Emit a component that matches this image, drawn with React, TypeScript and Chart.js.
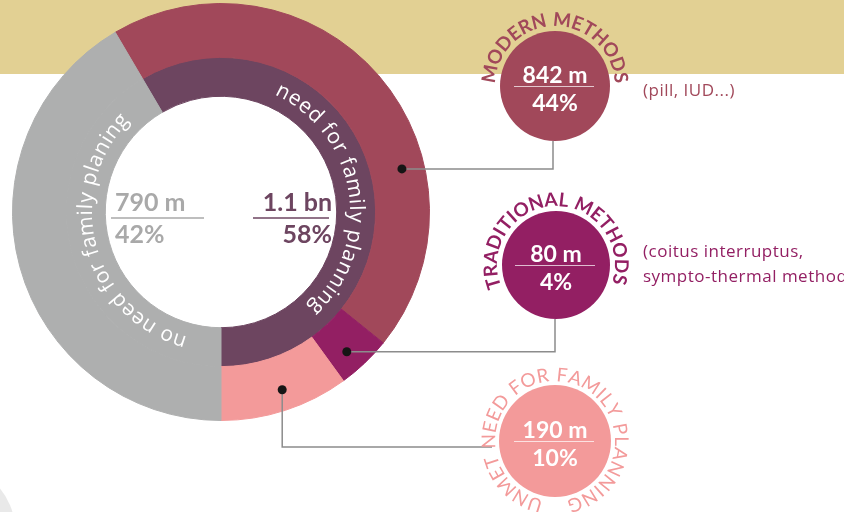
import React, { useEffect, useRef } from "react";
import { Chart, registerables } from "chart.js";

Chart.register(...registerables);

// ---- data (millions of women) ----
const segmentLabels = ["Modern methods", "Traditional methods", "Unmet need for family planning", "No need for family planning"];
const segmentValues = [842, 80, 190, 790];
const groupLabels = ["Need for family planning", "No need for family planning"];
const groupValues = [1112, 790];
const groupValueTexts = ["1.1 bn", "790 m"];
const groupPercentTexts = ["58%", "42%"];
const ringTitles = ["need for family planning", "no need for family planing"];
const bubbleTitles = ["MODERN METHODS", "TRADITIONAL METHODS", "UNMET NEED FOR FAMILY PLANNING"];
const bubbleValueTexts = ["842 m", "80 m", "190 m"];
const bubblePercentTexts = ["44%", "4%", "10%"];
const bubbleNotes = [["(pill, IUD...)"], ["(coitus interruptus,", "sympto-thermal method)"], []];

const COLORS = {
  modern: "#A1485A",
  trad: "#931F63",
  unmet: "#F39A9A",
  gray: "#AEAFAF",
  need: "#6D4560",
  band: "#E2D093",
  line: "#8C8C8C",
  dot: "#151515",
};
const FONT = "Lato, 'Open Sans', sans-serif";
const FONT2 = "'Open Sans', Lato, sans-serif";

function arcText(
  ctx: CanvasRenderingContext2D,
  text: string,
  cx: number,
  cy: number,
  r: number,
  centerDeg: number,
  spacing: number
) {
  const chars = [...text];
  const widths = chars.map((c) => ctx.measureText(c).width);
  const total = widths.reduce((a, b) => a + b, 0) + spacing * (chars.length - 1);
  let a = (centerDeg * Math.PI) / 180 - total / (2 * r);
  ctx.textAlign = "center";
  ctx.textBaseline = "middle";
  chars.forEach((ch, i) => {
    const w = widths[i];
    const mid = a + w / (2 * r);
    ctx.save();
    ctx.translate(cx + r * Math.sin(mid), cy - r * Math.cos(mid));
    ctx.rotate(mid);
    ctx.fillText(ch, 0, 0);
    ctx.restore();
    a += (w + spacing) / r;
  });
}

function polar(cx: number, cy: number, r: number, deg: number) {
  const t = (deg * Math.PI) / 180;
  return { x: cx + r * Math.sin(t), y: cy - r * Math.cos(t) };
}

const decorPlugin = {
  id: "decor",
  beforeDraw(chart: any) {
    const ctx = chart.ctx as CanvasRenderingContext2D;
    ctx.save();
    ctx.fillStyle = COLORS.band;
    ctx.fillRect(0, 0, chart.width, 74);
    ctx.fillStyle = "#E9E9E9";
    ctx.beginPath();
    ctx.arc(-50, 530, 65, 0, Math.PI * 2);
    ctx.fill();
    ctx.restore();
  },
  afterDraw(chart: any) {
    const ctx = chart.ctx as CanvasRenderingContext2D;
    const arc0 = chart.getDatasetMeta(0).data[0];
    const cx = arc0.x;
    const cy = arc0.y;
    ctx.save();

    // ring titles
    ctx.fillStyle = "#FFFFFF";
    ctx.font = `500 21px ${FONT2}`;
    arcText(ctx, ringTitles[0], cx, cy, 135, 81, 1.2);
    arcText(ctx, ringTitles[1], cx, cy, 135, 255, 1.0);

    // center figures
    const drawCenter = (x: number, align: CanvasTextAlign, color: string, v: string, p: string, lx0: number, lx1: number) => {
      ctx.fillStyle = color;
      ctx.textAlign = align;
      ctx.textBaseline = "middle";
      ctx.font = `bold 25px ${FONT}`;
      ctx.fillText(v, x, cy - 9);
      ctx.fillText(p, x, cy + 23);
      ctx.strokeStyle = color;
      ctx.lineWidth = 1.5;
      ctx.beginPath();
      ctx.moveTo(cx + lx0, cy + 6);
      ctx.lineTo(cx + lx1, cy + 6);
      ctx.stroke();
    };
    drawCenter(cx - 106, "left", "#A9A9A9", groupValueTexts[1], groupPercentTexts[1], -110, -17);
    drawCenter(cx + 111, "right", COLORS.need, groupValueTexts[0], groupPercentTexts[0], 32, 108);

    // connectors
    const bubbles = [
      { x: 555, y: 86, r: 55, color: COLORS.modern, titleR: 66, titleDeg: 0, weight: "bold", tfont: 19, sp: 1.2 },
      { x: 556, y: 265, r: 54, color: COLORS.trad, titleR: 65, titleDeg: -2, weight: "bold", tfont: 19, sp: 1.2 },
      { x: 555, y: 441, r: 56, color: COLORS.unmet, titleR: 66, titleDeg: 0, weight: "normal", tfont: 19, sp: 1.6 },
    ];
    ctx.strokeStyle = COLORS.line;
    ctx.lineWidth = 1.5;
    const d0 = polar(cx, cy, 186, 76.6);
    const d1 = polar(cx, cy, 188, 138);
    const d2 = polar(cx, cy, 188, 161);
    ctx.beginPath();
    ctx.moveTo(d0.x, d0.y);
    ctx.lineTo(bubbles[0].x - 2, d0.y);
    ctx.lineTo(bubbles[0].x - 2, bubbles[0].y + bubbles[0].r);
    ctx.moveTo(d1.x, d1.y);
    ctx.lineTo(bubbles[1].x - 1, d1.y);
    ctx.lineTo(bubbles[1].x - 1, bubbles[1].y + bubbles[1].r);
    ctx.moveTo(d2.x, d2.y);
    ctx.lineTo(d2.x, 447);
    ctx.lineTo(492, 447);
    ctx.stroke();
    ctx.fillStyle = COLORS.dot;
    [d0, d1, d2].forEach((d) => {
      ctx.beginPath();
      ctx.arc(d.x, d.y, 4.5, 0, Math.PI * 2);
      ctx.fill();
    });

    // bubbles
    bubbles.forEach((b, i) => {
      ctx.fillStyle = b.color;
      ctx.beginPath();
      ctx.arc(b.x, b.y, b.r, 0, Math.PI * 2);
      ctx.fill();
      ctx.font = `${b.weight} ${b.tfont}px ${FONT}`;
      arcText(ctx, bubbleTitles[i], b.x, b.y, b.titleR, b.titleDeg, b.sp);
      ctx.fillStyle = "#FFFFFF";
      ctx.textAlign = "center";
      ctx.textBaseline = "middle";
      ctx.font = `bold 23px ${FONT}`;
      ctx.fillText(bubbleValueTexts[i], b.x, b.y - 10);
      ctx.fillText(bubblePercentTexts[i], b.x, b.y + 18);
      ctx.strokeStyle = "rgba(255,255,255,0.7)";
      ctx.lineWidth = 1;
      ctx.beginPath();
      ctx.moveTo(b.x - 41, b.y + 0.5);
      ctx.lineTo(b.x + 39, b.y + 0.5);
      ctx.stroke();
      // notes
      ctx.fillStyle = b.color;
      ctx.textAlign = "left";
      ctx.font = `17px ${FONT2}`;
      (ctx as any).letterSpacing = "0.5px";
      bubbleNotes[i].forEach((line, j) => {
        const y0 = i === 0 ? b.y + 5 : b.y - 13;
        ctx.fillText(line, 643, y0 + j * 25);
      });
      (ctx as any).letterSpacing = "0px";
    });
    ctx.restore();
  },
};

export default function App() {
  const ref = useRef<HTMLCanvasElement | null>(null);
  useEffect(() => {
    if (!ref.current) return;
    const total = groupValues.reduce((a, b) => a + b, 0);
    const rotation = 180 - (groupValues[0] / total) * 360;
    const outerColors = [COLORS.modern, COLORS.trad, COLORS.unmet, COLORS.gray];
    const innerColors = [COLORS.need, COLORS.gray];
    const chart = new Chart(ref.current, {
      type: "doughnut",
      data: {
        labels: segmentLabels,
        datasets: [
          {
            label: "Methods",
            data: segmentValues,
            backgroundColor: outerColors,
            borderColor: outerColors,
            borderWidth: 1,
            hoverOffset: 0,
            offset: 0,
            weight: 54,
          } as any,
          {
            label: groupLabels.join(" / "),
            data: groupValues,
            backgroundColor: innerColors,
            borderColor: innerColors,
            borderWidth: 1,
            hoverOffset: 0,
            offset: 0,
            weight: 39,
          } as any,
        ],
      },
      options: {
        responsive: false,
        animation: false,
        events: [],
        rotation,
        cutout: "55.5%",
        layout: { padding: { left: 12, top: 3, right: 414, bottom: 91 } },
        plugins: { legend: { display: false }, tooltip: { enabled: false } },
      } as any,
      plugins: [decorPlugin],
    });
    return () => chart.destroy();
  }, []);
  return (
    <div style={{ position: "fixed", left: 0, top: 0, width: 844, height: 512, background: "#fff", overflow: "hidden" }}>
      <canvas ref={ref} width={844} height={512} style={{ width: 844, height: 512, display: "block" }} />
    </div>
  );
}
